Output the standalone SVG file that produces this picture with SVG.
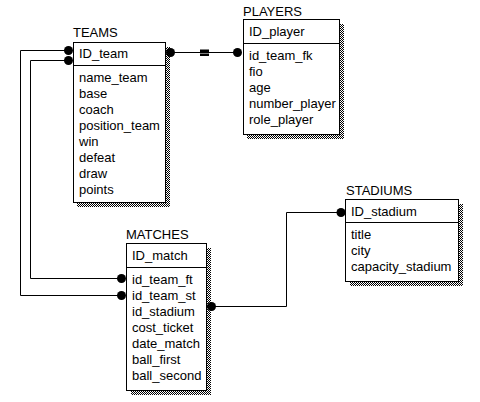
<svg xmlns="http://www.w3.org/2000/svg" width="480" height="402" viewBox="0 0 480 402">
<defs>
<pattern id="chk" width="2" height="2" patternUnits="userSpaceOnUse">
<rect width="2" height="2" fill="#fff"/>
<rect width="1" height="1" fill="#000"/>
<rect x="1" y="1" width="1" height="1" fill="#000"/>
</pattern>
</defs>
<style>
text{font-family:"Liberation Sans",Arial,sans-serif;font-size:13px;fill:#000}
.box{fill:#fff;stroke:#000;stroke-width:1}
.sh{fill:url(#chk)}
.ln{fill:none;stroke:#000;stroke-width:1}
.dot{fill:#000}
</style>
<rect width="480" height="402" fill="#fff"/>
<g id="teams">
<text x="73" y="37">TEAMS</text>
<rect class="sh" x="166" y="47" width="4" height="160"/>
<rect class="sh" x="77" y="203" width="93" height="4"/>
<rect class="box" x="73.5" y="42.5" width="92" height="160"/>
<line class="ln" x1="73.5" y1="65.5" x2="165.5" y2="65.5"/>
<text x="79" y="58">ID_team</text>
<text x="79" y="82">name_team</text>
<text x="79" y="98">base</text>
<text x="79" y="114">coach</text>
<text x="79" y="130">position_team</text>
<text x="79" y="146">win</text>
<text x="79" y="162">defeat</text>
<text x="79" y="178">draw</text>
<text x="79" y="194">points</text>
</g>
<g id="players">
<text x="243" y="16">PLAYERS</text>
<rect class="sh" x="340" y="24" width="4" height="115"/>
<rect class="sh" x="247" y="135" width="97" height="4"/>
<rect class="box" x="243.5" y="19.5" width="96" height="115"/>
<line class="ln" x1="243.5" y1="43.5" x2="339.5" y2="43.5"/>
<text x="249" y="36">ID_player</text>
<text x="249" y="60">id_team_fk</text>
<text x="249" y="76">fio</text>
<text x="249" y="92">age</text>
<text x="249" y="108">number_player</text>
<text x="249" y="124">role_player</text>
</g>
<g id="matches">
<text x="126" y="239">MATCHES</text>
<rect class="sh" x="207" y="248" width="4" height="147"/>
<rect class="sh" x="131" y="391" width="80" height="4"/>
<rect class="box" x="126.5" y="243.5" width="80" height="147"/>
<line class="ln" x1="126.5" y1="267.5" x2="206.5" y2="267.5"/>
<text x="132" y="260">ID_match</text>
<text x="132" y="284">id_team_ft</text>
<text x="132" y="300">id_team_st</text>
<text x="132" y="316">id_stadium</text>
<text x="132" y="332">cost_ticket</text>
<text x="132" y="348">date_match</text>
<text x="132" y="364">ball_first</text>
<text x="132" y="380">ball_second</text>
</g>
<g id="stadiums">
<text x="346" y="195">STADIUMS</text>
<rect class="sh" x="459" y="204" width="4" height="82"/>
<rect class="sh" x="350" y="282" width="113" height="4"/>
<rect class="box" x="345.5" y="199.5" width="113" height="82"/>
<line class="ln" x1="345.5" y1="222.5" x2="458.5" y2="222.5"/>
<text x="351" y="216">ID_stadium</text>
<text x="351" y="239">title</text>
<text x="351" y="255">city</text>
<text x="351" y="271">capacity_stadium</text>
</g>
<g id="connectors">
<path class="ln" d="M68.5 50.5H20.5V295.5H121.5"/>
<path class="ln" d="M68.5 60.5H30.5V278.5H121.5"/>
<path class="ln" d="M170 52.5H237"/>
<rect x="200" y="49.5" width="9" height="2.5" fill="#000"/>
<rect x="200" y="53.5" width="9" height="2.5" fill="#000"/>
<path class="ln" d="M212 306.5H286.5V212.5H341"/>
<circle class="dot" cx="68.5" cy="50.5" r="4.5"/>
<circle class="dot" cx="68.5" cy="60.5" r="4.5"/>
<circle class="dot" cx="121.5" cy="278.5" r="4.5"/>
<circle class="dot" cx="121.5" cy="295.5" r="4.5"/>
<circle class="dot" cx="170.5" cy="52.5" r="4.5"/>
<circle class="dot" cx="237.5" cy="52.5" r="4.5"/>
<circle class="dot" cx="211.5" cy="306.5" r="4.5"/>
<circle class="dot" cx="341" cy="212.5" r="4.5"/>
</g>
</svg>
